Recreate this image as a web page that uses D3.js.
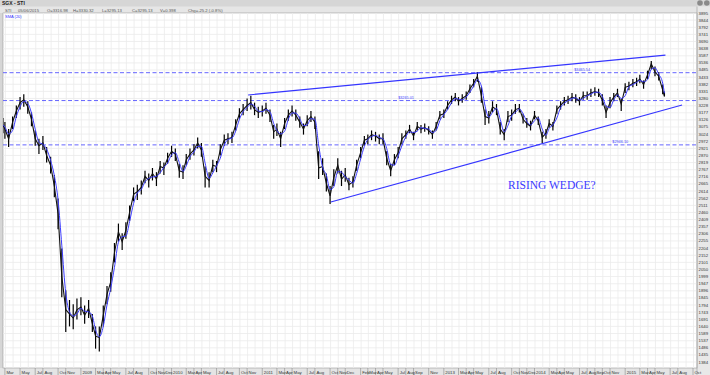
<!DOCTYPE html>
<html>
<head>
<meta charset="utf-8">
<script src="https://cdn.jsdelivr.net/npm/d3@7"></script>
<style>
  body { margin: 0; background: #fff; }
  svg { display: block; font-family: "Liberation Sans", Arial, sans-serif; }
</style>
</head>
<body>
<script>
const closes = [
  3090, 3060, 2990, 3110, 3190, 3250, 3270, 3220, 3130, 2990, 2940, 2960, 2870, 2800, 2650, 2450, 2000, 1760, 1730, 1700,
  1760, 1780, 1720, 1770, 1660, 1570, 1560, 1720, 1870, 1960, 2170, 2320, 2250, 2330, 2460, 2590, 2610, 2640, 2720, 2690,
  2740, 2700, 2790, 2780, 2850, 2900, 2880, 2760, 2750, 2840, 2880, 2910, 2960, 2910, 2720, 2690, 2800, 2790, 2910, 2980,
  2990, 3000, 3090, 3170, 3200, 3230, 3250, 3200, 3180, 3190, 3210, 3160, 3040, 3060, 2990, 3100, 3160, 3190, 3160, 3110,
  3060, 3120, 3150, 3110, 2780, 2790, 2670, 2580, 2710, 2800, 2700, 2730, 2660, 2680, 2800, 2890, 2980, 2990, 3020, 3010,
  2990, 2990, 2850, 2760, 2840, 2890, 2990, 3020, 3060, 3010, 3080, 3060, 3070, 3050, 3020, 3080, 3160, 3170, 3230, 3270,
  3290, 3260, 3280, 3300, 3350, 3390, 3440, 3300, 3150, 3140, 3220, 3200, 3060, 3020, 3150, 3160, 3200, 3210, 3130, 3100,
  3080, 3160, 3120, 3000, 3030, 3100, 3080, 3200, 3230, 3260, 3270, 3290, 3280, 3260, 3300, 3300, 3320, 3330, 3320, 3270,
  3180, 3250, 3290, 3320, 3240, 3360, 3370, 3390, 3400, 3420, 3380, 3450, 3530, 3470, 3440, 3340, 3295
];
const highs = [
  3140, 3110, 3060, 3150, 3230, 3290, 3310, 3260, 3180, 3050, 2990, 3010, 2930, 2860, 2730, 2560, 2200, 1900, 1830, 1800,
  1840, 1850, 1790, 1830, 1730, 1640, 1640, 1790, 1930, 2030, 2240, 2380, 2310, 2390, 2510, 2640, 2660, 2690, 2760, 2740,
  2780, 2750, 2830, 2820, 2890, 2940, 2920, 2810, 2800, 2880, 2920, 2950, 3000, 2960, 2790, 2750, 2840, 2830, 2950, 3020,
  3030, 3040, 3130, 3210, 3240, 3280, 3300, 3250, 3220, 3230, 3250, 3200, 3090, 3100, 3040, 3140, 3200, 3230, 3200, 3150,
  3100, 3160, 3190, 3150, 2900, 2850, 2740, 2650, 2770, 2850, 2760, 2780, 2710, 2720, 2840, 2930, 3010, 3020, 3050, 3040,
  3020, 3030, 2900, 2810, 2880, 2930, 3030, 3050, 3090, 3040, 3110, 3090, 3100, 3080, 3050, 3110, 3190, 3200, 3260, 3300,
  3320, 3290, 3310, 3330, 3380, 3420, 3470, 3360, 3200, 3190, 3260, 3240, 3110, 3060, 3190, 3200, 3240, 3240, 3170, 3140,
  3120, 3190, 3150, 3040, 3060, 3130, 3110, 3230, 3260, 3290, 3300, 3320, 3310, 3290, 3330, 3330, 3350, 3360, 3350, 3310,
  3230, 3290, 3320, 3350, 3280, 3390, 3400, 3420, 3430, 3450, 3410, 3480, 3550, 3510, 3470, 3380, 3330
];
const lows = [
  3030, 2990, 2930, 3060, 3140, 3200, 3220, 3170, 3080, 2940, 2880, 2910, 2820, 2740, 2570, 2340, 1850, 1600, 1640, 1620,
  1690, 1720, 1660, 1700, 1600, 1480, 1460, 1640, 1800, 1890, 2100, 2250, 2190, 2270, 2400, 2540, 2550, 2590, 2670, 2640,
  2690, 2650, 2740, 2730, 2810, 2860, 2830, 2710, 2700, 2800, 2840, 2870, 2920, 2860, 2640, 2640, 2750, 2750, 2870, 2940,
  2950, 2960, 3050, 3130, 3160, 3190, 3200, 3160, 3140, 3150, 3170, 3110, 2990, 3010, 2930, 3060, 3120, 3150, 3120, 3070,
  3020, 3080, 3110, 3060, 2700, 2730, 2610, 2520, 2650, 2740, 2650, 2680, 2620, 2640, 2760, 2850, 2940, 2950, 2980, 2970,
  2950, 2950, 2800, 2720, 2800, 2850, 2950, 2990, 3030, 2980, 3050, 3030, 3040, 3020, 2990, 3050, 3130, 3140, 3200, 3240,
  3260, 3230, 3250, 3270, 3320, 3360, 3400, 3250, 3090, 3100, 3180, 3160, 3020, 2980, 3110, 3120, 3170, 3180, 3100, 3070,
  3050, 3130, 3090, 2960, 2990, 3070, 3050, 3170, 3200, 3230, 3240, 3260, 3250, 3230, 3270, 3270, 3290, 3300, 3290, 3230,
  3140, 3210, 3260, 3290, 3190, 3320, 3340, 3360, 3370, 3390, 3350, 3420, 3490, 3440, 3410, 3310, 3295
];

// sample dates: first bar, then 1st and 16th of each month, then the last bars
const sampleDates = [new Date(2008, 1, 22)];
d3.timeMonths(new Date(2008, 2, 1), new Date(2015, 5, 1)).forEach(m => {
  sampleDates.push(m, new Date(m.getFullYear(), m.getMonth(), 16));
});
sampleDates.push(new Date(2015, 5, 1), new Date(2015, 5, 8));

const yTicks = [
  1384, 1435, 1486, 1537, 1589, 1640, 1691, 1743, 1794, 1845, 1896, 1947, 1999, 2050, 2101, 2152, 2204,
  2255, 2306, 2357, 2409, 2460, 2511, 2562, 2614, 2665, 2716, 2767, 2819, 2870, 2921, 2972, 3024, 3075,
  3126, 3177, 3228, 3280, 3331, 3382, 3433, 3485, 3536, 3587, 3638, 3690, 3741, 3792, 3844, 3895
];
const xTicks = [
  "2008-03", "2008-05", "2008-07", "2008-08", "2008-10", "2008-11",
  "2009-01", "2009-03", "2009-04", "2009-05", "2009-07", "2009-08", "2009-10", "2009-11", "2009-12",
  "2010-01", "2010-03", "2010-04", "2010-05", "2010-07", "2010-08", "2010-10", "2010-11",
  "2011-01", "2011-03", "2011-04", "2011-05", "2011-07", "2011-08", "2011-10", "2011-11", "2011-12",
  "2012-02", "2012-03", "2012-04", "2012-05", "2012-07", "2012-08", "2012-09", "2012-11",
  "2013-01", "2013-03", "2013-04", "2013-05", "2013-07", "2013-08", "2013-10", "2013-11", "2013-12",
  "2014-01", "2014-03", "2014-04", "2014-05", "2014-07", "2014-08", "2014-09", "2014-10", "2014-11",
  "2015-01", "2015-03", "2015-04", "2015-05", "2015-07", "2015-08", "2015-10"
];

// support / resistance levels and the wedge lines
const levels = [3465.54, 3265.01, 2946.10];
const levelLabelDates = [new Date(2014, 5, 10), new Date(2012, 6, 1), new Date(2014, 10, 10)];
const upperWedge = [[new Date(2010, 10, 5), 3305], [new Date(2015, 5, 12), 3592]];
const lowerWedge = [[new Date(2011, 9, 4), 2535], [new Date(2015, 7, 18), 3233]];

const headerFields = ["STI", "05/06/2015", "O=3316.98", "H=3330.32", "L=3295.13", "C=3295.13", "V=0.398", "Chg=-25.2 (-0.8%)"];
const headerX = [5, 18, 47, 73, 102, 132, 160, 188];

const width = 710;
const height = 375;
const plot = { left: 3, top: 13, right: 697, bottom: 368 };

const svg = d3.select("body")
  .append("svg")
  .attr("width", width)
  .attr("height", height);

svg.append("rect").attr("width", width).attr("height", height).attr("fill", "#d6d6d6");

// header rows
svg.append("rect").attr("x", 0).attr("y", 6.5).attr("width", width).attr("height", 6.5).attr("fill", "#e6e6e6");
svg.append("text").attr("x", 2).attr("y", 5.3)
  .attr("font-size", 5).attr("font-weight", "bold").attr("fill", "#222").text("SGX - STI");
svg.selectAll(".hdr").data(headerFields).enter().append("text")
  .attr("x", (d, i) => headerX[i]).attr("y", 11.6)
  .attr("font-size", 4.2).attr("fill", "#555").text(d => d);
[700, 706.8].forEach(cx => {
  svg.append("circle").attr("cx", cx).attr("cy", 3).attr("r", 2.8).attr("fill", "#8a8a8a");
});

// axis strips
svg.append("rect").attr("x", plot.right).attr("y", 6.5).attr("width", width - plot.right).attr("height", height - 6.5).attr("fill", "#e8e8e8");
svg.append("rect").attr("x", 0).attr("y", plot.bottom).attr("width", plot.right).attr("height", height - plot.bottom).attr("fill", "#e4e4e4");

// plot area
svg.append("rect")
  .attr("x", plot.left).attr("y", plot.top)
  .attr("width", plot.right - plot.left).attr("height", plot.bottom - plot.top)
  .attr("fill", "#fff").attr("stroke", "#9a9a9a").attr("stroke-width", 0.6);

const x = d3.scaleTime()
  .domain([new Date(2008, 0, 1), new Date(2015, 9, 1)])
  .range([-10, 693]);
const y = d3.scaleLinear()
  .domain([1384, 3895])
  .range([362, 13]);

svg.append("clipPath").attr("id", "clip")
  .append("rect")
  .attr("x", plot.left).attr("y", plot.top)
  .attr("width", plot.right - plot.left).attr("height", plot.bottom - plot.top);

const g = svg.append("g").attr("clip-path", "url(#clip)");

// grid: every month and every price tick
const months = d3.timeMonths(new Date(2008, 1, 1), new Date(2015, 10, 1));
g.selectAll(".vgrid").data(months).enter().append("line")
  .attr("x1", d => x(d) + 0.5).attr("x2", d => x(d) + 0.5)
  .attr("y1", plot.top).attr("y2", plot.bottom)
  .attr("stroke", "#ebebeb").attr("stroke-width", 0.8);
g.selectAll(".hgrid").data(yTicks).enter().append("line")
  .attr("x1", plot.left).attr("x2", plot.right)
  .attr("y1", d => y(d)).attr("y2", d => y(d))
  .attr("stroke", "#ebebeb").attr("stroke-width", 0.8);

g.append("text").attr("x", 5).attr("y", 17.5)
  .attr("font-size", 4).attr("fill", "#3030ff").text("SMA (20)");
g.append("text").attr("x", 694).attr("y", 11).attr("text-anchor", "end")
  .attr("font-size", 3.8).attr("fill", "#b0b0b0").text("ChartNexus.com");

// horizontal levels
g.selectAll(".level").data(levels).enter().append("line")
  .attr("x1", plot.left).attr("x2", plot.right)
  .attr("y1", d => y(d)).attr("y2", d => y(d))
  .attr("stroke", "#5555ff").attr("stroke-width", 0.9)
  .attr("stroke-dasharray", "4,2.5");
g.selectAll(".levelLabel").data(levels).enter().append("text")
  .attr("x", (d, i) => x(levelLabelDates[i]))
  .attr("y", d => y(d) - 2)
  .attr("font-size", 3.8).attr("fill", "#4444ff")
  .text(d => "$" + d.toFixed(2));

// price bars
const bars = sampleDates.map((d, i) => ({ date: d, close: closes[i], high: highs[i], low: lows[i] }));
g.selectAll(".bar").data(bars).enter().append("line")
  .attr("x1", d => x(d.date)).attr("x2", d => x(d.date))
  .attr("y1", d => y(d.high)).attr("y2", d => y(d.low))
  .attr("stroke", "#000").attr("stroke-width", 1.2);
g.append("path")
  .datum(bars)
  .attr("fill", "none").attr("stroke", "#111").attr("stroke-width", 1.1)
  .attr("d", d3.line().x(d => x(d.date)).y(d => y(d.close)));

// SMA(20) ~ two half-month samples
const sma = bars.map((d, i) => ({
  date: d.date,
  value: i === 0 ? d.close : (d.close + bars[i - 1].close) / 2
}));
g.append("path")
  .datum(sma)
  .attr("fill", "none").attr("stroke", "#3c3cff").attr("stroke-width", 1)
  .attr("d", d3.line().x(d => x(d.date)).y(d => y(d.value)).curve(d3.curveMonotoneX));

// rising wedge
[upperWedge, lowerWedge].forEach(pts => {
  g.append("line")
    .attr("x1", x(pts[0][0])).attr("y1", y(pts[0][1]))
    .attr("x2", x(pts[1][0])).attr("y2", y(pts[1][1]))
    .attr("stroke", "#3535ff").attr("stroke-width", 1.2);
});
g.append("text").attr("x", 508).attr("y", 189)
  .attr("font-family", "'Liberation Serif', 'Times New Roman', serif")
  .attr("font-size", 11.5).attr("fill", "#3a3aff").text("RISING WEDGE?");

// right price axis
svg.append("line").attr("x1", plot.right).attr("x2", plot.right)
  .attr("y1", 6.5).attr("y2", height).attr("stroke", "#9a9a9a").attr("stroke-width", 0.6);
svg.selectAll(".ylab").data(yTicks).enter().append("text")
  .attr("x", 698.5).attr("y", d => y(d) + 1.5)
  .attr("font-size", 4.3).attr("fill", "#333").text(d => d);

// bottom date axis
const parseMonth = d3.timeParse("%Y-%m");
const tickDates = xTicks.map(parseMonth);
svg.selectAll(".xsep").data(tickDates).enter().append("line")
  .attr("x1", d => x(d)).attr("x2", d => x(d))
  .attr("y1", plot.bottom).attr("y2", height)
  .attr("stroke", "#8a8a8a").attr("stroke-width", 0.6);
svg.selectAll(".xlab").data(tickDates).enter().append("text")
  .attr("x", d => x(d) + 1.5).attr("y", 373.8)
  .attr("font-size", 4.3).attr("fill", "#333")
  .text(d => d.getMonth() === 0 ? d3.timeFormat("%Y")(d) : d3.timeFormat("%b")(d));
</script>
</body>
</html>
